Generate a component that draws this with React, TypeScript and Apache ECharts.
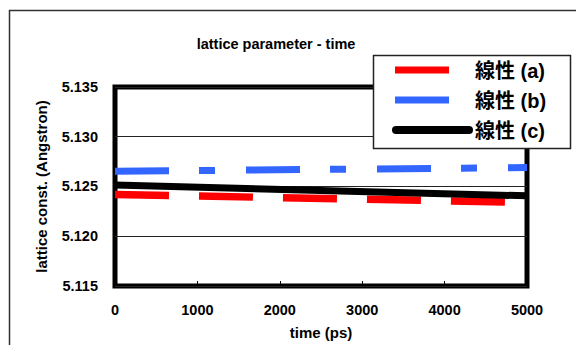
import React, { useEffect, useRef } from "react";
import * as echarts from "echarts";

// Linear fits of the lattice constant over simulation time
const timePs = [0, 5000];
const fitA = [5.1242, 5.1234];
const fitB = [5.12653, 5.1269];
const fitC = [5.12515, 5.12406];
const seriesNames = ["線性 (a)", "線性 (b)", "線性 (c)"];
const xTicks = { min: 0, max: 5000, step: 1000 };
const yTicks = { min: 5.115, max: 5.135, step: 0.005 };

const FONT = "'Liberation Sans', Arial, 'Noto Sans CJK JP', sans-serif";

export default function App() {
  const ref = useRef<HTMLDivElement>(null);

  useEffect(() => {
    if (!ref.current) return;
    const chart = echarts.init(ref.current, undefined, { renderer: "svg" });

    const pts = (ys: number[]) => timePs.map((x, i) => [x, ys[i]]);

    const legendLine = (y: number, x1: number, x2: number, color: string, w: number, cap: string) => ({
      type: "line",
      z: 101,
      shape: { x1, y1: y, x2, y2: y },
      style: { stroke: color, lineWidth: w, lineCap: cap },
    });
    const legendText = (y: number, text: string) => ({
      type: "text",
      z: 102,
      x: 475,
      y,
      style: {
        text,
        fill: "#000",
        font: `bold 20px ${FONT}`,
        verticalAlign: "middle",
        align: "left",
      },
    });

    chart.setOption({
      animation: false,
      backgroundColor: "#fff",
      title: {
        text: "lattice parameter - time",
        left: 271,
        top: 32,
        textAlign: "center",
        textStyle: { fontFamily: FONT, fontWeight: "bold", fontSize: 14.5, color: "#000" },
      },
      grid: {
        left: 115,
        top: 87,
        right: 49,
        bottom: 55,
        show: true,
        borderColor: "#000",
        borderWidth: 5,
        backgroundColor: "transparent",
      },
      xAxis: {
        type: "value",
        min: xTicks.min,
        max: xTicks.max,
        interval: xTicks.step,
        name: "time (ps)",
        nameLocation: "middle",
        nameGap: 39,
        nameTextStyle: { fontFamily: FONT, fontWeight: "bold", fontSize: 15, color: "#000" },
        axisLine: { show: false },
        axisTick: { show: true, inside: true, length: 5, lineStyle: { color: "#000", width: 1 } },
        axisLabel: {
          fontFamily: FONT,
          fontWeight: "bold",
          fontSize: 14.5,
          color: "#000",
          margin: 17,
          formatter: (v: number) => String(v),
        },
        splitLine: { show: false },
      },
      yAxis: {
        type: "value",
        min: yTicks.min,
        max: yTicks.max,
        interval: yTicks.step,
        name: "lattice const. (Angstron)",
        nameLocation: "middle",
        nameGap: 66,
        nameTextStyle: { fontFamily: FONT, fontWeight: "bold", fontSize: 15, color: "#000" },
        axisLine: { show: false },
        axisTick: { show: false },
        axisLabel: {
          fontFamily: FONT,
          fontWeight: "bold",
          fontSize: 14.5,
          color: "#000",
          margin: 17,
          formatter: (v: number) => v.toFixed(3),
        },
        splitLine: { show: true, lineStyle: { color: "#222", width: 1 } },
      },
      series: [
        {
          name: seriesNames[0],
          type: "line",
          data: pts(fitA),
          symbol: "none",
          lineStyle: { color: "#ff0000", width: 7.5, type: [54, 30], cap: "butt" },
          z: 3,
        },
        {
          name: seriesNames[1],
          type: "line",
          data: pts(fitB),
          symbol: "none",
          lineStyle: { color: "#3366ff", width: 7, type: [54, 30, 16, 31], cap: "butt" },
          z: 3,
        },
        {
          name: seriesNames[2],
          type: "line",
          data: pts(fitC),
          symbol: "none",
          lineStyle: { color: "#000", width: 7 },
          z: 4,
        },
      ],
      graphic: [
        {
          type: "rect",
          z: 0,
          silent: true,
          shape: { x: 9.5, y: 10.5, width: 700, height: 500 },
          style: { fill: "none", stroke: "#333", lineWidth: 1.5 },
        },
        {
          type: "rect",
          z: 100,
          shape: { x: 373.5, y: 55.5, width: 197, height: 93 },
          style: { fill: "#fff", stroke: "#222", lineWidth: 1.5 },
        },
        legendLine(70, 395, 449, "#ff0000", 7, "butt"),
        legendLine(100, 395, 449, "#3366ff", 7, "butt"),
        legendLine(130, 396, 469, "#000", 8, "round"),
        legendText(71, seriesNames[0]),
        legendText(101, seriesNames[1]),
        legendText(131, seriesNames[2]),
      ],
    });

    return () => chart.dispose();
  }, []);

  return (
    <div
      ref={ref}
      style={{ position: "fixed", left: 0, top: 0, width: 576, height: 345 }}
    />
  );
}
